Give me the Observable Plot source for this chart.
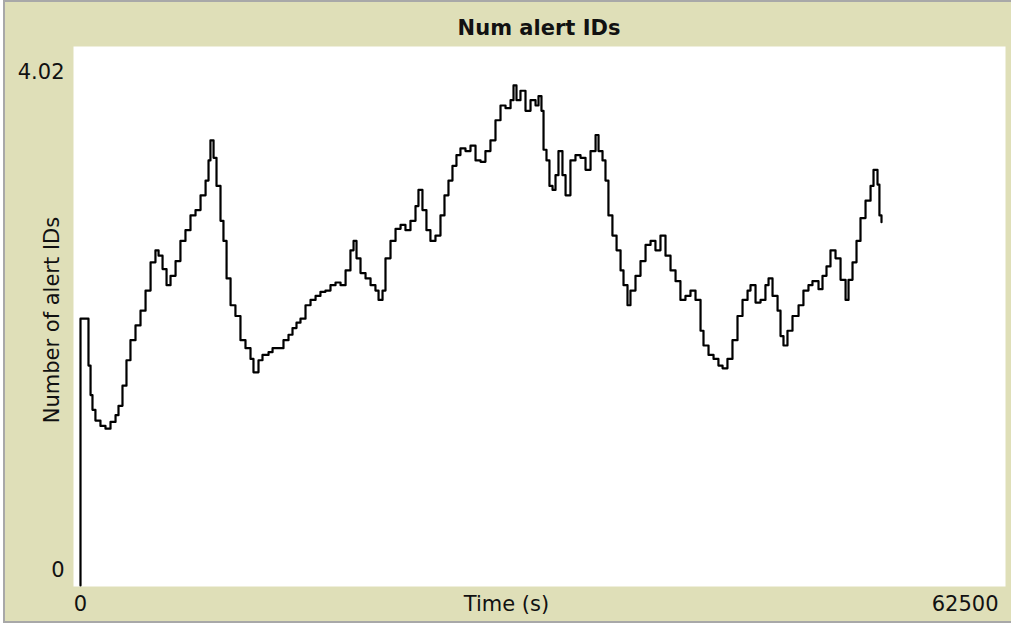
<!DOCTYPE html>
<html>
<head>
<meta charset="utf-8">
<script src="https://cdn.jsdelivr.net/npm/d3@7"></script>
<script src="https://cdn.jsdelivr.net/npm/@observablehq/plot@0.6"></script>
<style>
  html, body { margin: 0; padding: 0; background: #ffffff; }
  body { width: 1011px; height: 623px; position: relative; overflow: hidden; font-family: "DejaVu Sans", sans-serif; }
  #bg { position: absolute; left: 3px; top: 0; width: 1008px; height: 623px; box-sizing: border-box;
        background: #dfdfb8; border-top: 2px solid #a8a8a8; border-left: 2px solid #a8a8a8; border-bottom: 2px solid #a8a8a8; }
  #title { position: absolute; left: 73px; width: 932px; top: 12px; height: 32px; line-height: 32px;
           text-align: center; font-weight: bold; font-size: 21px; color: #111; }
  #chart { position: absolute; left: 0; top: 46px; }
</style>
</head>
<body>
<div id="bg"></div>
<div id="title">Num alert IDs</div>
<div id="chart"></div>
<script>
const chartTitle = "Num alert IDs";
const xLabel = "Time (s)";
const yLabel = "Number of alert IDs";
const xDomain = [0, 62500];
const yDomain = [0, 4.02];
const xTickLabels = ["0", "62500"];
const yTickLabels = ["0", "4.02"];

const times = [
  0, 0, 470, 540, 680, 810, 1010, 1350, 1690, 2030, 2370, 2570, 2840, 3110, 3380, 3720, 4060, 4400, 4740, 5070,
  5280, 5550, 5820, 6090, 6430, 6760, 7100, 7440, 7780, 8120, 8460, 8660, 8790, 9000, 9200, 9470, 9670, 9880, 10150, 10480,
  10820, 11160, 11500, 11700, 12040, 12310, 12720, 12990, 13390, 13730, 14070, 14340, 14610, 14880, 15220, 15560, 15900, 16230, 16570, 16910,
  17250, 17590, 17930, 18260, 18470, 18670, 18940, 19280, 19620, 19950, 20160, 20430, 20630, 20970, 21310, 21650, 21980, 22320, 22660, 22860,
  23130, 23400, 23670, 24010, 24350, 24620, 24890, 25160, 25430, 25700, 26040, 26380, 26720, 27060, 27390, 27730, 28070, 28410, 28750, 29090,
  29290, 29490, 29760, 30100, 30440, 30780, 30980, 31180, 31320, 31520, 31720, 31930, 32130, 32330, 32600, 32810, 33140, 33480, 33820, 34160,
  34500, 34840, 35040, 35310, 35510, 35710, 35980, 36260, 36530, 36730, 37000, 37200, 37540, 37880, 38220, 38560, 38890, 39230, 39570, 39910,
  40250, 40580, 40920, 41260, 41600, 41940, 42140, 42480, 42820, 43150, 43430, 43760, 44100, 44440, 44780, 45120, 45320, 45660, 46000, 46330,
  46540, 46810, 47150, 47350, 47550, 47820, 48160, 48570, 48900, 49240, 49510, 49920, 50190, 50460, 50730, 51070, 51410, 51750, 51950, 52220,
  52490, 52760, 53100, 53440, 53640, 53910, 54040, 54180
];
const alertIds = [
  0, 1.99, 1.99, 1.64, 1.42, 1.31, 1.23, 1.19, 1.17, 1.22, 1.27, 1.34, 1.49, 1.68, 1.83, 1.94, 2.05, 2.20, 2.41, 2.50,
  2.46, 2.36, 2.24, 2.31, 2.42, 2.57, 2.65, 2.76, 2.80, 2.91, 3.02, 3.17, 3.32, 3.19, 2.98, 2.72, 2.57, 2.29, 2.09, 2.01,
  1.83, 1.77, 1.69, 1.59, 1.68, 1.72, 1.74, 1.77, 1.77, 1.83, 1.87, 1.92, 1.96, 1.99, 2.09, 2.13, 2.16, 2.19, 2.20, 2.24,
  2.26, 2.24, 2.35, 2.50, 2.57, 2.44, 2.33, 2.29, 2.24, 2.20, 2.13, 2.20, 2.44, 2.57, 2.66, 2.69, 2.65, 2.72, 2.83, 2.95,
  2.80, 2.65, 2.57, 2.61, 2.76, 2.91, 3.02, 3.13, 3.21, 3.26, 3.24, 3.28, 3.17, 3.16, 3.24, 3.32, 3.47, 3.58, 3.56, 3.62,
  3.73, 3.62, 3.69, 3.54, 3.62, 3.58, 3.65, 3.54, 3.25, 3.17, 2.98, 2.95, 3.06, 3.24, 3.06, 2.91, 3.17, 3.21, 3.19, 3.10,
  3.24, 3.36, 3.24, 3.17, 3.02, 2.76, 2.61, 2.50, 2.35, 2.24, 2.09, 2.20, 2.31, 2.42, 2.54, 2.57, 2.50, 2.61, 2.46, 2.35,
  2.27, 2.13, 2.16, 2.20, 2.13, 1.90, 1.79, 1.72, 1.69, 1.64, 1.62, 1.69, 1.83, 2.01, 2.13, 2.20, 2.24, 2.11, 2.13, 2.24,
  2.29, 2.16, 2.05, 1.86, 1.79, 1.90, 2.01, 2.09, 2.20, 2.24, 2.27, 2.21, 2.31, 2.38, 2.50, 2.44, 2.28, 2.13, 2.28, 2.41,
  2.57, 2.74, 2.87, 2.98, 3.10, 2.99, 2.76, 2.71
];

const series = times.map((t, i) => ({t, v: alertIds[i]}));
const font = "DejaVu Sans";

const plot = Plot.plot({
  width: 1011,
  height: 577,
  marginLeft: 80,
  marginRight: 7,
  marginTop: 0,
  marginBottom: 38,
  style: {background: "transparent", overflow: "visible", fontFamily: font},
  x: {domain: xDomain, axis: null},
  y: {domain: yDomain, axis: null},
  marks: [
    Plot.frame({fill: "white", stroke: null, insetLeft: -7, insetRight: -1, insetBottom: -1}),
    Plot.line(series, {x: "t", y: "v", curve: "step-after", stroke: "black", strokeWidth: 2.2}),
    Plot.text([yTickLabels[1]], {y: [yDomain[1]], text: d => d, frameAnchor: "left", textAnchor: "end", lineAnchor: "middle", dx: -16, dy: 26, fontSize: 21, fill: "#111", fontFamily: font}),
    Plot.text([yTickLabels[0]], {y: [yDomain[0]], text: d => d, frameAnchor: "left", textAnchor: "end", lineAnchor: "middle", dx: -16, dy: -15, fontSize: 21, fill: "#111", fontFamily: font}),
    Plot.text([xTickLabels[0]], {x: [xDomain[0]], text: d => d, frameAnchor: "bottom", textAnchor: "middle", lineAnchor: "middle", dy: 19, fontSize: 21, fill: "#111", fontFamily: font}),
    Plot.text([xTickLabels[1]], {x: [xDomain[1]], text: d => d, frameAnchor: "bottom", textAnchor: "end", lineAnchor: "middle", dx: -6, dy: 19, fontSize: 21, fill: "#111", fontFamily: font}),
    Plot.text([xLabel], {text: d => d, frameAnchor: "bottom", textAnchor: "middle", lineAnchor: "middle", dx: -36, dy: 19, fontSize: 21, fill: "#111", fontFamily: font}),
    Plot.text([yLabel], {text: d => d, frameAnchor: "left", rotate: -90, textAnchor: "middle", lineAnchor: "middle", dx: -28, dy: 4, fontSize: 21, fill: "#111", fontFamily: font})
  ]
});
document.getElementById("title").textContent = chartTitle;
document.getElementById("chart").appendChild(plot);
</script>
</body>
</html>
